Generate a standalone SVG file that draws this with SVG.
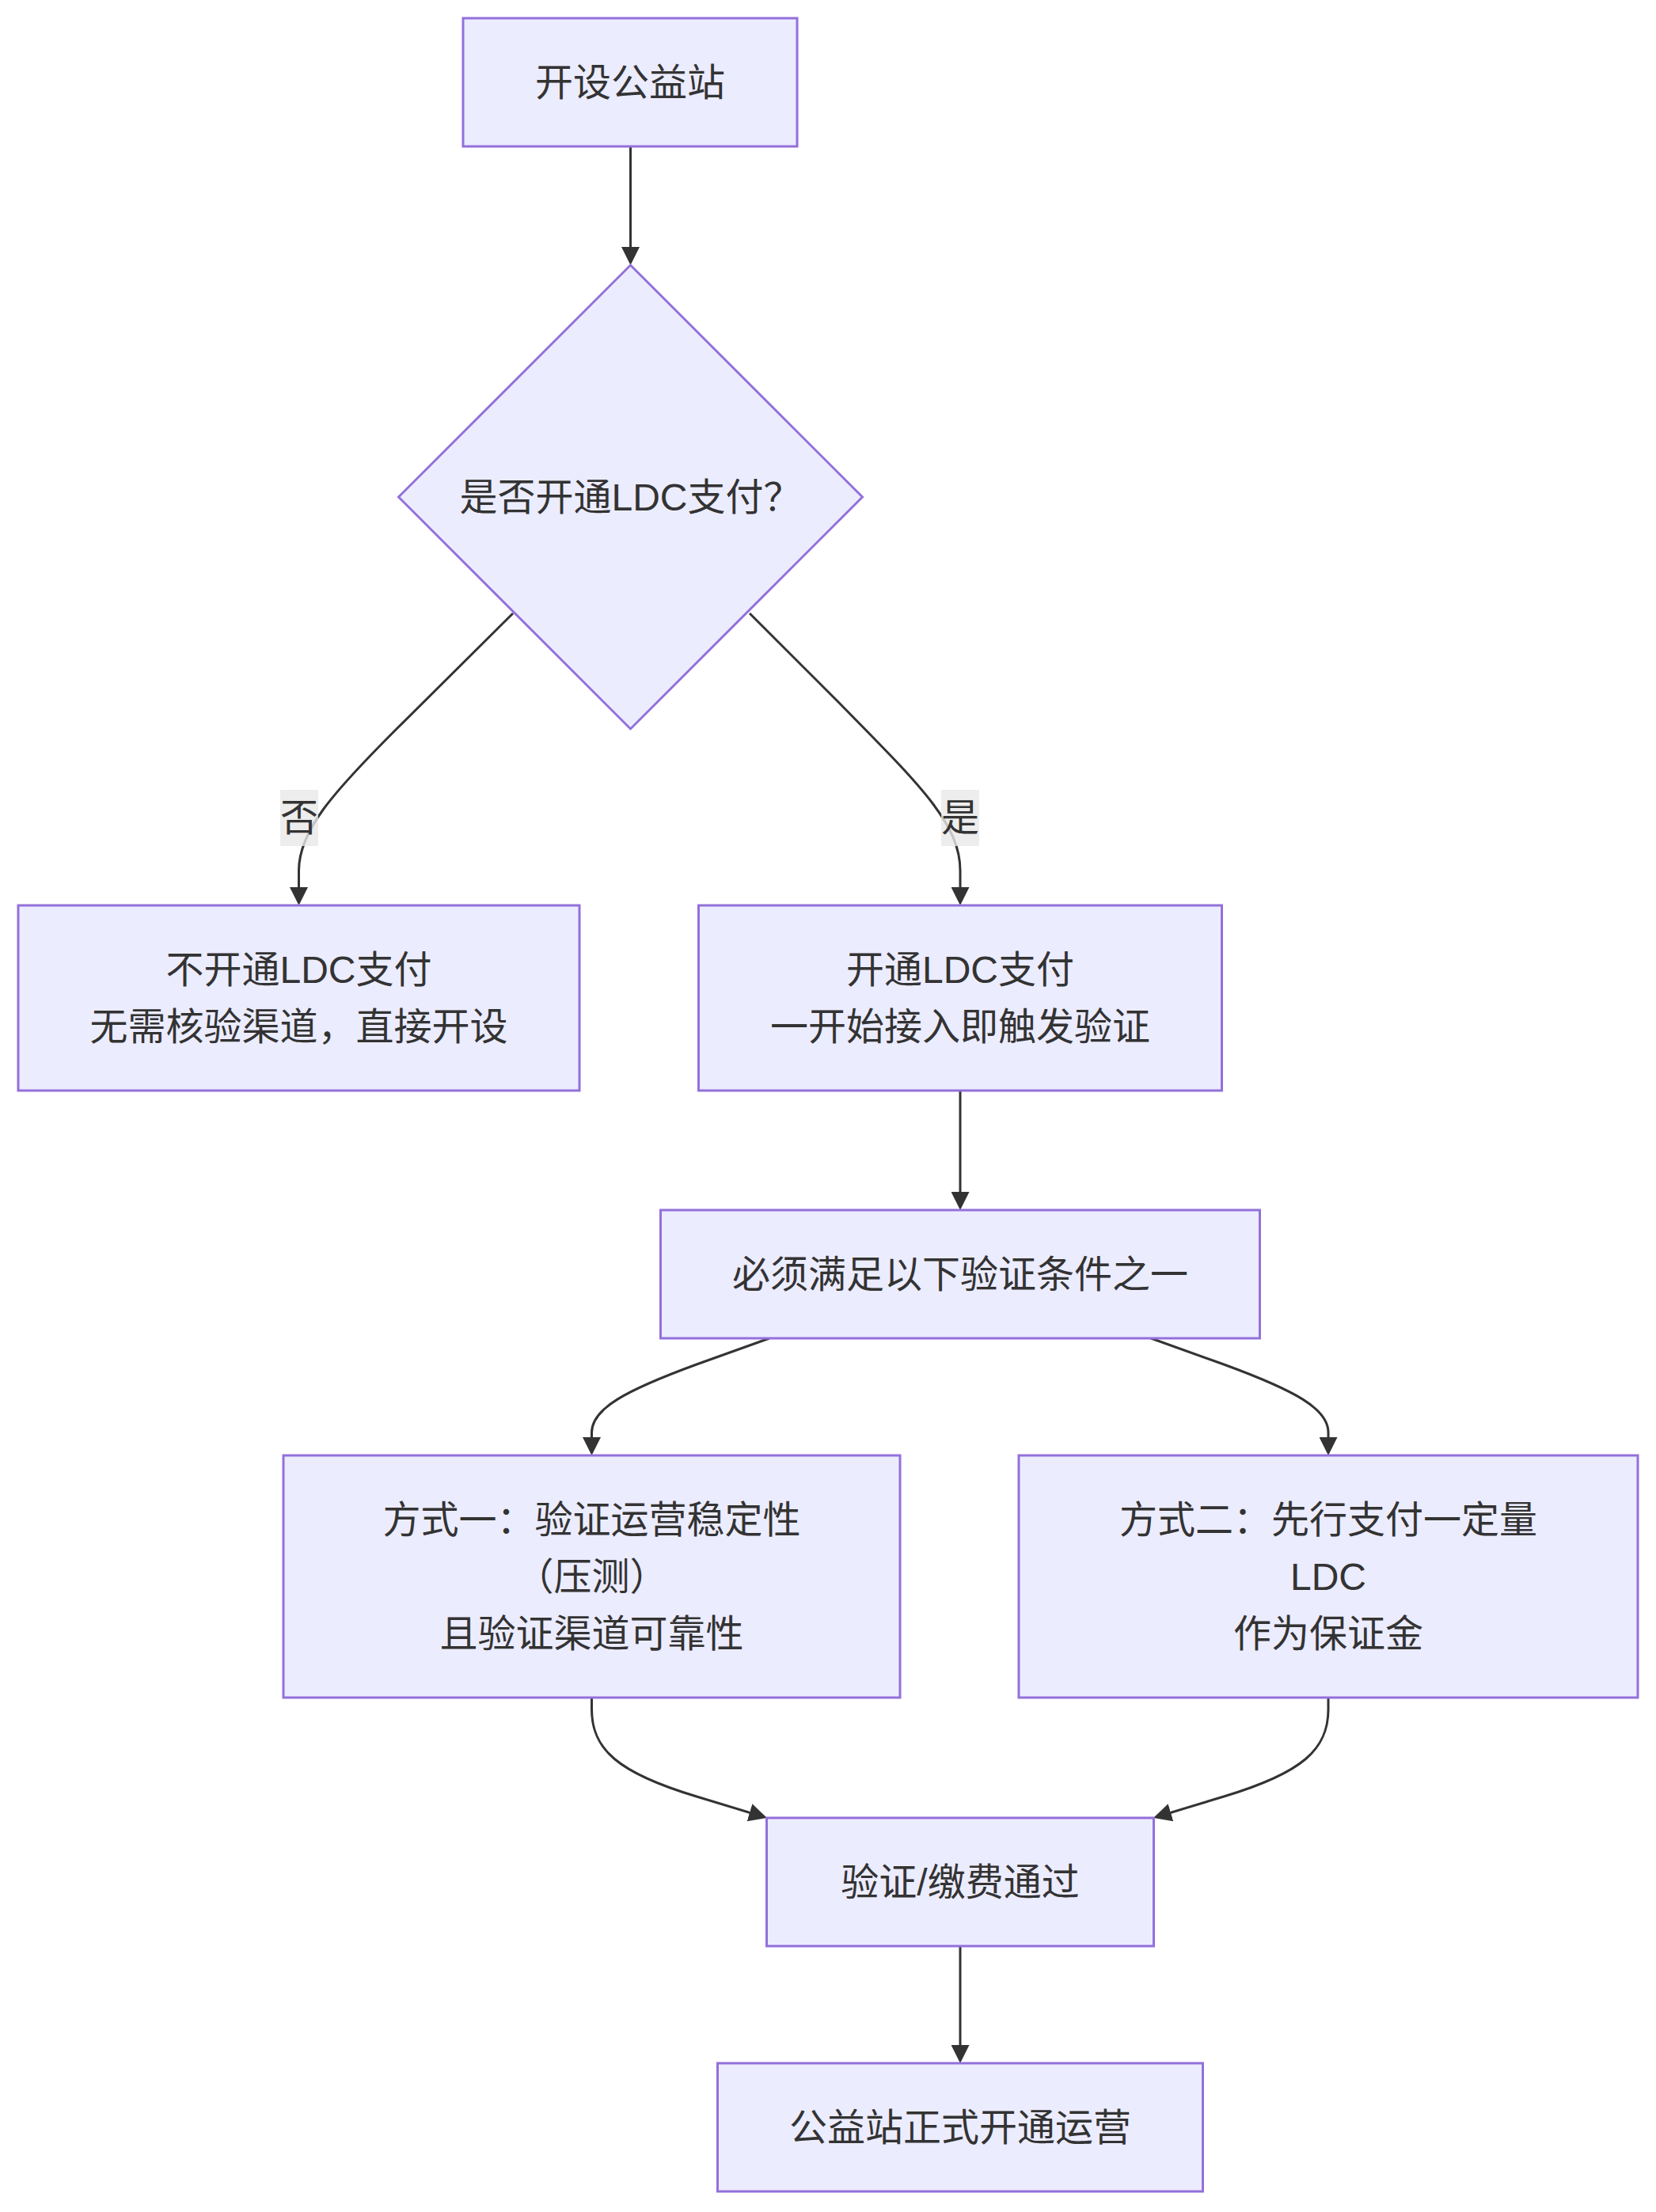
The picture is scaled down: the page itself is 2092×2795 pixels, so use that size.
<svg xmlns="http://www.w3.org/2000/svg" width="2092" height="2795" viewBox="0 0 2092 2795">
<style>
.node rect, .node polygon { fill: #ECECFF; stroke: #9370DB; stroke-width: 3; }
.node text, .lbl text { font-family: "Liberation Sans", "Noto Sans CJK SC", sans-serif; font-size: 48px; fill: #333333; text-anchor: middle; dominant-baseline: central; }
.edges path { fill: none; stroke: #333333; stroke-width: 3; marker-end: url(#arrow); }
.lbl rect { fill: #e8e8e8; fill-opacity: 0.8; }
</style>
<defs>
<marker id="arrow" viewBox="0 0 10 10" refX="5" refY="5" markerUnits="userSpaceOnUse" markerWidth="23" markerHeight="23" orient="auto">
<path d="M0,0 L10,5 L0,10 z" fill="#333333"/>
</marker>
</defs>
<rect x="0" y="0" width="2092" height="2795" fill="#ffffff"/>
<g id="edges" class="edges">
<path d="M796.5,185 L796.5,323.5"/>
<path d="M648,775 L500,922 C420,1002 377.5,1050 377.5,1100 L377.5,1132.5"/>
<path d="M947,775 L1060,888 C1160,990 1213,1040 1213,1100 L1213,1132.5"/>
<path d="M1213,1378 L1213,1517.5"/>
<path d="M972,1691 L880,1724 C790,1757 747.5,1780 747.5,1810 L747.5,1827.5"/>
<path d="M1454,1691 L1546,1724 C1636,1757 1678,1780 1678,1810 L1678,1827.5"/>
<path d="M747.5,2145 L747.5,2160 C747.5,2210 780,2240 880,2270 L958,2293.7"/>
<path d="M1678,2145 L1678,2160 C1678,2210 1646,2240 1546,2270 L1468,2293.7"/>
<path d="M1213,2459 L1213,2595.5"/>
</g>
<g id="edge-labels">
<g class="lbl" id="label-no"><rect x="354" y="998" width="48" height="71"/><text x="378" y="1033.5">否</text></g>
<g class="lbl" id="label-yes"><rect x="1189" y="998" width="48" height="71"/><text x="1213" y="1033.5">是</text></g>
</g>
<g id="node-A" class="node"><rect x="585" y="23" width="422" height="162"/><text x="796" y="104">开设公益站</text></g>
<g id="node-B" class="node"><polygon points="796.5,335 1089.5,628 796.5,921 503.5,628"/><text x="796.5" y="628">是否开通LDC支付？</text></g>
<g id="node-C" class="node"><rect x="23" y="1144" width="709" height="234"/><text x="377.5" y="1225">不开通LDC支付</text><text x="377.5" y="1297">无需核验渠道，直接开设</text></g>
<g id="node-D" class="node"><rect x="882.5" y="1144" width="661" height="234"/><text x="1213" y="1225">开通LDC支付</text><text x="1213" y="1297">一开始接入即触发验证</text></g>
<g id="node-E" class="node"><rect x="834.5" y="1529" width="757" height="162"/><text x="1213" y="1610">必须满足以下验证条件之一</text></g>
<g id="node-F" class="node"><rect x="358" y="1839" width="779" height="306"/><text x="747.5" y="1920">方式一：验证运营稳定性</text><text x="747.5" y="1992">（压测）</text><text x="747.5" y="2064">且验证渠道可靠性</text></g>
<g id="node-G" class="node"><rect x="1287" y="1839" width="782" height="306"/><text x="1678" y="1920">方式二：先行支付一定量</text><text x="1678" y="1992">LDC</text><text x="1678" y="2064">作为保证金</text></g>
<g id="node-H" class="node"><rect x="968.5" y="2297" width="489" height="162"/><text x="1213" y="2378">验证/缴费通过</text></g>
<g id="node-I" class="node"><rect x="906.5" y="2607" width="613" height="162"/><text x="1213" y="2688">公益站正式开通运营</text></g>
</svg>
